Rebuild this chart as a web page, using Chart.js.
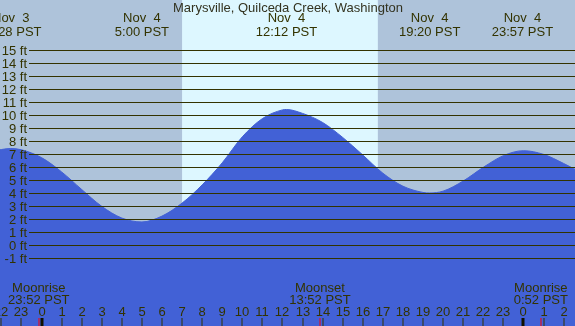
<!DOCTYPE html>
<html>
<head>
<meta charset="utf-8">
<script src="https://cdn.jsdelivr.net/npm/chart.js@4/dist/chart.umd.min.js"></script>
<style>
  html, body { margin: 0; padding: 0; background: #aec3da; }
  #tide { display: block; }
</style>
</head>
<body>
<canvas id="tide" width="575" height="326"></canvas>
<script>
// hours are relative to Nov 4 00:00 PST
const tideHours = [-3, -2, -1.53, -1, 0, 1, 2, 3, 4, 5, 6, 7, 8, 9, 10, 11, 12, 12.2, 13, 14, 15, 16, 17, 18, 19, 19.33, 20, 21, 22, 23, 24, 25, 26, 27];
const tideFeet  = [7.1, 7.42, 7.5, 7.4, 6.8, 5.7, 4.35, 3.05, 2.15, 1.85, 2.3, 3.3, 4.7, 6.4, 8.4, 9.8, 10.47, 10.5, 10.2, 9.5, 8.35, 7.0, 5.6, 4.6, 4.12, 4.08, 4.22, 5.0, 6.05, 6.95, 7.33, 7.05, 6.35, 5.55];

// high / low tide labels along the top
const eventHours = [-1.53, 5.0, 12.2, 19.33, 23.95];
const eventDates = ['Nov  3', 'Nov  4', 'Nov  4', 'Nov  4', 'Nov  4'];
const eventTimes = ['22:28 PST', '5:00 PST', '12:12 PST', '19:20 PST', '23:57 PST'];

// moon rise / set
const moonHours = [-0.133, 13.867, 24.867];
const moonNames = ['Moonrise', 'Moonset', 'Moonrise'];
const moonTimes = ['23:52 PST', '13:52 PST', '0:52 PST'];

const sunrise = 7.0;
const sunset = 16.75;

const feetTicks = [-1, 0, 1, 2, 3, 4, 5, 6, 7, 8, 9, 10, 11, 12, 13, 14, 15];
const hourTicks = [-2, -1, 0, 1, 2, 3, 4, 5, 6, 7, 8, 9, 10, 11, 12, 13, 14, 15, 16, 17, 18, 19, 20, 21, 22, 23, 24, 25, 26];
const hourLabels = ['22', '23', '0', '1', '2', '3', '4', '5', '6', '7', '8', '9', '10', '11', '12', '13', '14', '15', '16', '17', '18', '19', '20', '21', '22', '23', '0', '1', '2'];
const midnights = [0, 24];

const title = 'Marysville, Quilceda Creek, Washington';

const NIGHT = '#aec3da';
const DAY = '#ddf7ff';
const WATER = '#4261d6';
const INK = '#333300';
const FONT = '13px "Liberation Sans", Arial, sans-serif';

// sky colours behind the water
const skyPlugin = {
  id: 'sky',
  beforeDatasetsDraw(chart) {
    const { ctx, chartArea, scales } = chart;
    ctx.save();
    ctx.fillStyle = NIGHT;
    ctx.fillRect(0, 0, chart.width, chart.height);
    const x0 = scales.x.getPixelForValue(sunrise);
    const x1 = scales.x.getPixelForValue(sunset);
    ctx.fillStyle = DAY;
    ctx.fillRect(x0, chartArea.top, x1 - x0, chartArea.bottom - chartArea.top);
    ctx.restore();
  }
};

// grid lines, labels and ticks drawn on top of the water
const labelPlugin = {
  id: 'labels',
  afterDatasetsDraw(chart) {
    const { ctx, scales } = chart;
    const x = scales.x, y = scales.y;
    ctx.save();
    ctx.font = FONT;

    // depth lines
    ctx.strokeStyle = INK;
    ctx.lineWidth = 1;
    ctx.fillStyle = INK;
    ctx.textAlign = 'right';
    ctx.textBaseline = 'alphabetic';
    feetTicks.forEach(f => {
      const py = Math.floor(y.getPixelForValue(f)) + 0.5;
      ctx.beginPath();
      ctx.moveTo(29, py);
      ctx.lineTo(chart.width, py);
      ctx.stroke();
      ctx.fillText(f + ' ft', 27, py + 4);
    });

    // title
    ctx.fillStyle = '#333320';
    ctx.textAlign = 'center';
    ctx.fillText(title, 288, 12);

    // tide times along the top
    ctx.fillStyle = INK;
    eventHours.forEach((h, i) => {
      const px = x.getPixelForValue(h);
      ctx.fillText(eventDates[i], px, 22);
      ctx.fillText(eventTimes[i], px, 36);
    });

    // moon
    moonHours.forEach((h, i) => {
      const px = x.getPixelForValue(h);
      ctx.fillText(moonNames[i], px, 292);
      ctx.fillText(moonTimes[i], px, 304);
    });

    // hour axis
    hourTicks.forEach((h, i) => {
      const px = Math.round(x.getPixelForValue(h));
      ctx.fillStyle = INK;
      ctx.fillText(hourLabels[i], px, 316);
      ctx.fillRect(px - 0.5, 318, 1, 8);
    });
    ctx.fillStyle = '#111100';
    midnights.forEach(h => {
      const px = Math.round(x.getPixelForValue(h));
      ctx.fillRect(px - 1.5, 318, 3, 8);
    });
    ctx.fillStyle = '#ff0000';
    moonHours.forEach(h => {
      const px = Math.round(x.getPixelForValue(h));
      ctx.fillRect(px - 0.5, 318, 1, 8);
    });
    ctx.restore();
  }
};

new Chart(document.getElementById('tide').getContext('2d'), {
  type: 'line',
  data: {
    datasets: [{
      data: tideHours.map((h, i) => ({ x: h, y: tideFeet[i] })),
      borderColor: WATER,
      borderWidth: 1,
      backgroundColor: WATER,
      fill: 'start',
      pointRadius: 0,
      cubicInterpolationMode: 'monotone'
    }]
  },
  options: {
    responsive: false,
    animation: false,
    layout: { padding: 0 },
    plugins: { legend: { display: false }, tooltip: { enabled: false } },
    scales: {
      x: { type: 'linear', display: false, min: -2.067, max: 26.568 },
      y: { type: 'linear', display: false, min: -6.154, max: 18.923 }
    }
  },
  plugins: [skyPlugin, labelPlugin]
});
</script>
</body>
</html>
